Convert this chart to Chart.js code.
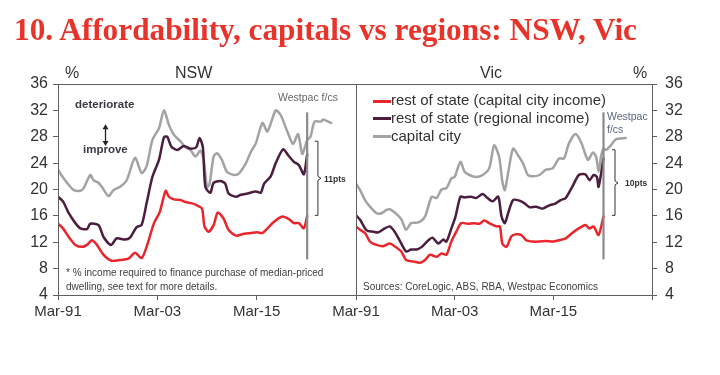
<!DOCTYPE html>
<html>
<head>
<meta charset="utf-8">
<script src="https://cdn.jsdelivr.net/npm/chart.js@4/dist/chart.umd.min.js"></script>
<style>
  html, body { margin: 0; padding: 0; background: #fff; }
  #wrap { position: relative; width: 720px; height: 375px; overflow: hidden; font-family: "Liberation Sans", Arial, sans-serif; color: #333; }
  canvas { position: absolute; left: 0; top: 0; }
  .t { position: absolute; white-space: nowrap; }
  #title { position: absolute; left: 14px; top: 13px; font-family: "Liberation Serif", serif; font-weight: bold; font-size: 32px; line-height: 32px; color: #E8332A; transform-origin: 0 0; white-space: nowrap; }
  .leg { position: absolute; left: 373px; width: 18px; height: 3px; }
</style>
</head>
<body>
<div id="wrap">
  <canvas id="cL" width="720" height="375"></canvas>
  <canvas id="cR" width="720" height="375"></canvas>
  <div id="title">10. Affordability, capitals vs regions: NSW, Vic</div>
  <div class="t" style="left:65px;top:64px;font-size:16px;line-height:18px;">%</div>
  <div class="t" style="left:175px;top:64px;font-size:16px;line-height:18px;">NSW</div>
  <div class="t" style="left:480px;top:64px;font-size:16px;line-height:18px;">Vic</div>
  <div class="t" style="left:633px;top:64px;font-size:16px;line-height:18px;">%</div>
  <div class="t" style="left:75px;top:96px;font-size:11.5px;line-height:16px;font-weight:bold;color:#3a3a48;">deteriorate</div>
  <div class="t" style="left:83px;top:141px;font-size:11.5px;line-height:16px;font-weight:bold;color:#3a3a48;">improve</div>
  <div class="t" style="left:278px;top:90px;font-size:10.5px;line-height:14px;color:#666;">Westpac f/cs</div>
  <div class="t" style="left:607px;top:110px;font-size:10.5px;line-height:13px;color:#5a6680;">Westpac<br>f/cs</div>
  <div class="t" style="left:324px;top:173px;font-size:8.5px;line-height:12px;font-weight:bold;color:#333;">11pts</div>
  <div class="t" style="left:625px;top:177px;font-size:8.5px;line-height:12px;font-weight:bold;color:#333;">10pts</div>
  <div class="t" style="left:66px;top:266px;font-size:10px;line-height:14px;color:#404040;">* % income required to finance purchase of median-priced<br>dwelling, see text for more details.</div>
  <div class="t" style="left:363px;top:280px;font-size:10px;line-height:14px;color:#404040;">Sources: CoreLogic, ABS, RBA, Westpac Economics</div>
  <div class="leg" style="top:99.5px;background:#E8262B;"></div>
  <div class="leg" style="top:117px;background:#4B1E3F;"></div>
  <div class="leg" style="top:134.5px;background:#A3A3A3;"></div>
  <div class="t" style="left:391px;top:91px;font-size:15px;line-height:18px;">rest of state (capital city income)</div>
  <div class="t" style="left:391px;top:109px;font-size:15px;line-height:18px;">rest of state (regional income)</div>
  <div class="t" style="left:391px;top:127px;font-size:15px;line-height:18px;">capital city</div>
</div>
<script>
// ---------- DATA (x = year, decimal; y = % income) ----------
const xTickYears = [1991, 2003, 2015, 2027];
const xTickLabels = ['Mar-91', 'Mar-03', 'Mar-15', ''];
const yTicks = [4, 8, 12, 16, 20, 24, 28, 32, 36];
const seriesNames = ['rest of state (capital city income)', 'rest of state (regional income)', 'capital city'];

// NSW
const nswCapYears = [1991.0,1991.4,1992.1,1992.9,1993.7,1994.1,1994.9,1995.3,1995.9,1996.3,1997.1,1997.7,1998.5,1999.3,2000.3,2001.1,2001.7,2002.4,2003.2,2003.8,2004.4,2005.0,2005.8,2006.4,2007.0,2007.6,2008.2,2008.6,2009.0,2009.3,2009.8,2010.2,2010.8,2011.4,2012.3,2012.9,2013.7,2014.3,2014.9,2015.7,2016.3,2017.3,2017.9,2018.7,2019.4,2020.0,2020.5,2020.9,2021.1,2021.5,2022.0,2022.8,2023.0,2024.0];
const nswCap      = [23.0,22.2,21.0,19.9,19.8,20.2,22.2,21.4,21.0,20.4,19.0,19.9,20.4,21.4,24.8,22.5,23.5,27.5,29.3,32.0,29.8,28.3,27.3,26.4,26.0,25.0,25.9,24.5,20.4,20.8,25.0,25.5,24.5,22.7,22.2,22.5,24.0,25.7,27.0,30.1,28.8,32.0,31.3,28.8,26.9,28.4,25.4,26.7,27.5,28.0,30.3,30.3,30.6,30.1];
const nswRegYears = [1991.0,1991.6,1992.3,1993.1,1993.7,1994.5,1994.9,1995.9,1996.5,1997.4,1998.1,1999.1,1999.7,2000.5,2001.1,2001.7,2002.4,2003.2,2003.8,2004.2,2004.7,2005.4,2006.2,2007.0,2007.7,2008.1,2008.5,2008.8,2009.4,2009.8,2010.6,2011.2,2011.6,2012.5,2013.1,2013.9,2014.9,2015.5,2015.9,2016.7,2017.3,2018.2,2018.8,2019.5,2020.1,2020.7,2021.1];
const nswReg      = [18.9,18.2,16.4,14.9,14.1,14.0,14.8,14.6,12.8,11.6,12.6,12.4,12.7,14.3,14.6,17.9,21.9,24.5,27.9,28.0,26.5,26.0,26.6,26.2,26.4,27.8,26.4,20.4,19.5,21.0,21.3,20.9,19.4,18.9,19.2,19.4,19.7,19.5,20.9,22.0,24.0,26.1,25.2,24.2,23.7,22.3,25.3];
const nswRestYears = [1991.0,1991.6,1992.3,1993.1,1993.9,1994.5,1995.1,1995.7,1996.5,1997.5,1998.5,1999.5,2000.3,2001.1,2001.7,2002.6,2003.3,2004.0,2004.4,2005.0,2005.8,2006.4,2007.2,2007.8,2008.4,2008.7,2009.2,2009.8,2010.3,2011.0,2011.6,2012.5,2013.5,2014.3,2015.1,2015.7,2016.3,2017.1,2018.1,2018.9,2019.5,2020.1,2020.7,2021.1];
const nswRest      = [14.8,14.1,12.8,11.6,11.3,11.6,12.3,11.6,10.1,9.2,9.3,9.5,10.4,9.6,11.3,14.9,16.6,19.8,18.9,18.5,18.4,18.1,17.9,17.6,17.1,14.4,13.6,14.6,16.5,15.6,13.9,13.0,13.3,13.4,13.5,13.4,14.1,15.1,15.9,15.5,14.9,14.9,14.1,16.0];

// Vic
const vicCapYears = [1991.0,1991.5,1992.1,1992.7,1993.5,1994.1,1994.7,1995.1,1995.9,1996.5,1997.1,1997.7,1998.6,1999.4,2000.2,2000.8,2001.4,2002.0,2002.6,2003.0,2003.7,2004.2,2004.8,2005.6,2006.4,2007.2,2007.8,2008.4,2008.8,2009.1,2009.5,2010.1,2010.7,2011.3,2011.9,2012.5,2013.3,2014.1,2014.9,2015.7,2016.3,2016.9,2017.7,2018.4,2019.2,2019.8,2020.2,2020.5,2020.8,2021.1,2021.4,2022.0,2022.6,2023.8];
const vicCap      = [20.9,19.9,18.4,17.4,16.4,16.4,16.9,17.0,16.3,15.5,13.9,14.9,15.0,15.9,18.9,18.7,20.0,20.2,21.7,21.9,24.2,22.7,22.2,21.9,22.2,23.2,26.7,25.0,21.2,19.9,22.5,26.2,25.2,24.0,22.2,22.0,22.2,23.0,23.2,24.7,24.7,27.0,28.4,27.1,24.5,25.6,25.0,22.7,25.0,26.2,26.0,26.7,27.6,27.8];
const vicRegYears = [1991.0,1991.5,1992.3,1993.1,1993.7,1994.5,1995.1,1995.7,1996.3,1997.1,1997.7,1998.4,1999.0,1999.8,2000.3,2001.0,2001.6,2002.0,2002.6,2003.1,2003.7,2004.2,2005.0,2005.6,2006.4,2007.0,2007.6,2008.3,2008.7,2009.1,2009.5,2010.1,2010.9,2011.5,2012.1,2012.9,2013.7,2014.5,2015.3,2015.9,2016.5,2017.3,2018.1,2018.9,2019.4,2019.9,2020.3,2020.5,2021.1];
const vicReg      = [16.1,15.4,13.8,13.6,13.5,14.1,14.4,13.6,12.3,10.6,10.9,10.9,11.3,12.3,12.7,11.8,12.4,12.1,14.1,15.9,18.9,18.8,18.9,18.7,19.3,18.7,18.2,18.9,15.9,14.9,16.4,18.4,18.3,17.9,17.3,17.4,17.1,17.6,17.9,18.4,18.7,20.4,22.2,22.3,21.4,22.2,21.9,20.4,24.7];
const vicRestYears = [1991.0,1991.5,1992.1,1992.7,1993.5,1994.3,1995.1,1995.7,1996.5,1997.1,1997.9,1998.8,1999.4,2000.0,2000.8,2001.4,2002.0,2002.6,2003.2,2003.8,2004.6,2005.4,2006.0,2006.6,2007.2,2008.1,2008.5,2008.8,2009.3,2009.9,2010.5,2011.1,2011.7,2012.5,2013.3,2014.1,2014.9,2015.7,2016.5,2017.3,2018.1,2018.9,2019.4,2019.9,2020.5,2021.1];
const vicRest      = [14.4,13.9,13.4,12.1,11.6,11.4,11.8,11.4,10.6,9.3,9.1,8.9,9.3,10.1,9.8,10.3,10.1,12.1,13.6,14.9,14.8,14.9,14.8,15.3,14.9,14.4,14.4,11.8,11.3,12.9,13.2,13.1,12.3,12.1,12.1,12.2,12.1,12.3,12.6,13.4,14.1,14.6,14.1,14.4,13.1,15.9];

// Annotation values (data units)
const forecastStart = { nsw: 2021.1, vic: 2021.1 };
const forecastLineRange = [9.4, 31.7];
const gapBracket = { nsw: { x: 2022.4, top: 27.4, bottom: 16.0, mid: 21.7 }, vic: { x: 2022.5, top: 26.1, bottom: 16.0, mid: 21.0 } };
const arrowPos = { x: 1996.7, top: 29.9, bottom: 26.6 };

// ---------- STYLE ----------
const colors = ['#E8262B', '#4B1E3F', '#A3A3A3'];
const axisColor = '#5f5f5f';

function pts(xs, ys) { return xs.map((x, i) => ({ x: x, y: ys[i] })); }

const framePlugin = {
  id: 'frame',
  afterDatasetsDraw(chart, args, opts) {
    const ctx = chart.ctx, a = chart.chartArea, xs = chart.scales.x, ys = chart.scales.y;
    ctx.save();
    // forecast vertical line
    const fx = xs.getPixelForValue(opts.forecastX);
    ctx.strokeStyle = '#8a8a8a'; ctx.lineWidth = 2.2;
    ctx.beginPath(); ctx.moveTo(fx, ys.getPixelForValue(forecastLineRange[1])); ctx.lineTo(fx, ys.getPixelForValue(forecastLineRange[0])); ctx.stroke();
    // bracket
    const b = opts.bracket;
    const bx = xs.getPixelForValue(b.x), bt = ys.getPixelForValue(b.top), bb = ys.getPixelForValue(b.bottom), bm = ys.getPixelForValue(b.mid);
    ctx.strokeStyle = '#333'; ctx.lineWidth = 1;
    ctx.beginPath();
    ctx.moveTo(bx - 3, bt + 0.5); ctx.lineTo(bx, bt + 0.5); ctx.lineTo(bx, bm - 2); ctx.lineTo(bx + 3, bm); ctx.lineTo(bx, bm + 2); ctx.lineTo(bx, bb - 0.5); ctx.lineTo(bx - 3, bb - 0.5);
    ctx.stroke();
    // double arrow
    if (opts.arrow) {
      const ax = Math.round(xs.getPixelForValue(arrowPos.x)) + 0.5, at = ys.getPixelForValue(arrowPos.top), ab = ys.getPixelForValue(arrowPos.bottom);
      ctx.strokeStyle = '#222'; ctx.fillStyle = '#222'; ctx.lineWidth = 1.3;
      ctx.beginPath(); ctx.moveTo(ax, at + 3); ctx.lineTo(ax, ab - 3); ctx.stroke();
      ctx.beginPath(); ctx.moveTo(ax, at); ctx.lineTo(ax - 3, at + 5); ctx.lineTo(ax + 3, at + 5); ctx.closePath(); ctx.fill();
      ctx.beginPath(); ctx.moveTo(ax, ab); ctx.lineTo(ax - 3, ab - 5); ctx.lineTo(ax + 3, ab - 5); ctx.closePath(); ctx.fill();
    }
    // frame
    ctx.strokeStyle = axisColor; ctx.lineWidth = 1;
    ctx.strokeRect(Math.round(a.left) + 0.5, Math.round(a.top) + 0.5, Math.round(a.right - a.left), Math.round(a.bottom - a.top));
    ctx.restore();
  }
};

function makeChart(id, side, rest, restY, reg, regY, cap, capY, fX, bracket) {
  const isL = side === 'L';
  return new Chart(document.getElementById(id), {
    type: 'line',
    data: {
      datasets: [
        { label: seriesNames[0], data: pts(rest, restY), borderColor: colors[0], order: 1 },
        { label: seriesNames[1], data: pts(reg, regY), borderColor: colors[1], order: 2 },
        { label: seriesNames[2], data: pts(cap, capY), borderColor: colors[2], order: 3 }
      ]
    },
    options: {
      responsive: false, animation: false, devicePixelRatio: 1,
      parsing: false,
      elements: { point: { radius: 0 }, line: { borderWidth: 2.5, tension: 0.25, cubicInterpolationMode: 'default', borderCapStyle: 'round', borderJoinStyle: 'round' } },
      layout: { padding: isL ? { left: 0, right: 364, top: 84, bottom: 0 } : { left: 356, right: 0, top: 84, bottom: 0 } },
      plugins: {
        legend: { display: false }, tooltip: { enabled: false },
        frame: { forecastX: fX, bracket: bracket, arrow: isL }
      },
      scales: {
        x: {
          type: 'linear', min: xTickYears[0], max: xTickYears[xTickYears.length - 1],
          afterBuildTicks: s => { s.ticks = xTickYears.map(v => ({ value: v })); },
          afterFit: s => { s.height = 80; },
          ticks: { autoSkip: false, maxRotation: 0, padding: 3, color: '#333', font: { family: 'Liberation Sans', size: 15 },
                   callback: (v) => xTickLabels[xTickYears.indexOf(v)] },
          grid: { drawOnChartArea: false, drawTicks: true, tickLength: 5, color: axisColor },
          border: { color: axisColor }
        },
        y: {
          position: isL ? 'left' : 'right', min: yTicks[0], max: yTicks[yTicks.length - 1],
          afterBuildTicks: s => { s.ticks = yTicks.map(v => ({ value: v })); },
          afterFit: s => { s.width = isL ? 58 : 68; },
          ticks: { padding: isL ? 5 : 8, color: '#333', font: { family: 'Liberation Sans', size: 16 } },
          grid: { drawOnChartArea: false, drawTicks: true, tickLength: 5, color: axisColor },
          border: { color: axisColor }
        }
      }
    },
    plugins: [framePlugin]
  });
}

makeChart('cL', 'L', nswRestYears, nswRest, nswRegYears, nswReg, nswCapYears, nswCap, forecastStart.nsw, gapBracket.nsw);
makeChart('cR', 'R', vicRestYears, vicRest, vicRegYears, vicReg, vicCapYears, vicCap, forecastStart.vic, gapBracket.vic);

// fit title width to reference
const t = document.getElementById('title');
const w = t.getBoundingClientRect().width;
t.style.transform = 'scaleX(' + (623 / w) + ')';
</script>
</body>
</html>
